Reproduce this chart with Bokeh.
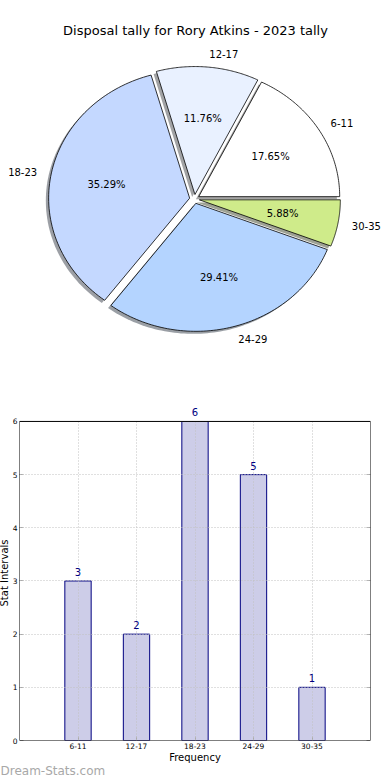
import numpy as np
from bokeh.plotting import figure
from bokeh.models import (ColumnDataSource, Label, LabelSet, FixedTicker, Range1d,
                          BoxAnnotation, Title, LinearAxis)
from bokeh.core.properties import value
from bokeh.embed import file_html
from bokeh.resources import INLINE

# ---- data ----
categories = ["6-11", "12-17", "18-23", "24-29", "30-35"]
counts = [3, 2, 6, 5, 1]
slice_colors = ["#ffffff", "#e9f1ff", "#c4d8ff", "#b4d4ff", "#cfeb8a"]
title_text = "Disposal tally for Rory Atkins - 2023 tally"
y_ticks = [0, 1, 2, 3, 4, 5, 6]
x_label = "Frequency"
y_label = "Stat Intervals"
watermark = "Dream-Stats.com"

FONT = "DejaVu Sans"
explode = 0.035

# ---- pie geometry from data ----
total = float(sum(counts))
fracs = np.array(counts) / total
ends = np.cumsum(fracs) * 2 * np.pi
starts = ends - fracs * 2 * np.pi
mids = (starts + ends) / 2
ox = explode * np.cos(mids)
oy = explode * np.sin(mids)

xs, ys, sxs, sys_, shadow_cols = [], [], [], [], []
for a0, a1, cx, cy, col in zip(starts, ends, ox, oy, slice_colors):
    t = np.linspace(a0, a1, 80)
    px = np.concatenate([[cx], cx + np.cos(t), [cx]])
    py = np.concatenate([[cy], cy + np.sin(t), [cy]])
    xs.append(list(px)); ys.append(list(py))
    sxs.append(list(px - 0.02)); sys_.append(list(py - 0.02))
    h = col.lstrip("#")
    rgb = [int(h[i:i + 2], 16) for i in (0, 2, 4)]
    shadow_cols.append("#%02x%02x%02x" % tuple(int(0.3 * c) for c in rgb))

W = 390
H1 = 370
CX, CY, RX, RY = 194.0, 198.5, 141.0, 128.0
p1 = figure(width=W, height=H1, x_range=Range1d(-CX / RX, (W - CX) / RX),
            y_range=Range1d(-(H1 - CY) / RY, CY / RY), output_backend="svg",
            toolbar_location=None, min_border=0,
            x_axis_location=None, y_axis_location=None)
p1.grid.visible = False
p1.outline_line_color = None

p1.patches(xs=sxs, ys=sys_, fill_color=shadow_cols, fill_alpha=0.5, line_color=None)
p1.patches(xs=xs, ys=ys, fill_color=slice_colors, line_color="black", line_width=0.8)

lab_src = ColumnDataSource(dict(
    x=list(ox + 1.1 * np.cos(mids)), y=list(oy + 1.1 * np.sin(mids)),
    text=categories,
    align=["left" if c > 0 else "right" for c in np.cos(mids)],
))
p1.text(x="x", y="y", text="text", text_align="align", text_baseline="middle",
        text_font_size="10px", text_font=value(FONT), text_color="black", source=lab_src)

pct_src = ColumnDataSource(dict(
    x=list(ox + 0.6 * np.cos(mids)), y=list(oy + 0.6 * np.sin(mids)),
    text=["%.2f%%" % (f * 100) for f in fracs],
))
p1.text(x="x", y="y", text="text", text_align="center", text_baseline="middle",
        text_font_size="10px", text_font=value(FONT), text_color="black", source=pct_src)

p1.add_layout(Label(x=195, y=H1 - 30, x_units="screen", y_units="screen",
                    text=title_text, text_align="center", text_baseline="middle",
                    text_font_size="13px", text_font=FONT, text_color="black"))

# ---- bar chart ----
x_pos = list(range(1, len(categories) + 1))
ymax = y_ticks[-1]
H2 = 780 - H1
SHIFT = 5          # canvas starts a few px left of the page edge
FRAME_LEFT = 19    # frame's left edge on the page
p2 = figure(width=W + SHIFT, height=H2, x_range=Range1d(0, len(categories) + 1),
            y_range=Range1d(y_ticks[0], ymax + 0.3), output_backend="svg",
            toolbar_location=None, min_border_left=FRAME_LEFT + SHIFT, min_border_right=20,
            min_border_top=35, min_border_bottom=40, margin=(0, 0, 0, -SHIFT))

bar_src = ColumnDataSource(dict(x=x_pos, top=counts, label=[str(c) for c in counts]))
p2.vbar(x="x", top="top", width=0.45, fill_color="#cdcde8", line_color="#000080",
        line_width=1, source=bar_src)

p2.add_layout(LinearAxis(ticker=FixedTicker(ticks=y_ticks), major_label_text_alpha=0,
                         major_label_text_font_size="1px", major_label_standoff=0,
                         axis_line_color=None, major_tick_in=4, major_tick_out=0,
                         major_tick_line_color="#aaaaaa", minor_tick_line_color=None),
              "right")

p2.xaxis.ticker = FixedTicker(ticks=x_pos)
p2.xaxis.major_label_overrides = {x: c for x, c in zip(x_pos, categories)}
p2.yaxis[0].ticker = FixedTicker(ticks=y_ticks)
for ax in (p2.xaxis[0], p2.yaxis[0]):
    ax.axis_line_color = None
    ax.major_tick_in = 4
    ax.major_tick_out = 0
    ax.major_tick_line_color = "#aaaaaa"
    ax.minor_tick_line_color = None
    ax.major_label_text_font_size = "7.5px"
    ax.major_label_text_font = FONT
    ax.major_label_text_color = "black"
    ax.major_label_standoff = 2
    ax.axis_label_text_font_size = "10px"
    ax.axis_label_text_font = FONT
    ax.axis_label_text_font_style = "normal"
    ax.axis_label_text_color = "black"
    ax.axis_label_standoff = 0
p2.xaxis[0].axis_label = x_label
p2.yaxis[0].axis_label = y_label

p2.grid.grid_line_color = "#c0c0c0"
p2.grid.grid_line_dash = "1 2"
p2.grid.grid_line_width = 1
p2.grid.level = "guide"
p2.outline_line_color = None

# white band above the top of the value axis, then the plot box
p2.add_layout(BoxAnnotation(bottom=ymax, fill_color="white", fill_alpha=1,
                            line_color=None, level="annotation"))
p2.add_layout(BoxAnnotation(left=0, right=len(categories) + 1, bottom=y_ticks[0], top=ymax,
                            fill_color=None, fill_alpha=0, line_color="black",
                            line_width=1, line_alpha=1, level="annotation"))

p2.add_layout(LabelSet(x="x", y="top", text="label", source=bar_src,
                       text_align="center", text_baseline="alphabetic", y_offset=5,
                       text_font_size="10px", text_font=value(FONT),
                       text_color="#000080", level="overlay"))

p2.add_layout(Title(text=watermark, align="left", offset=-FRAME_LEFT, standoff=-8,
                    text_font_size="12px", text_font=FONT, text_font_style="normal",
                    text_color="#a8a8a8"), "below")

open("out.html", "w").write(file_html([p1, p2], INLINE))
